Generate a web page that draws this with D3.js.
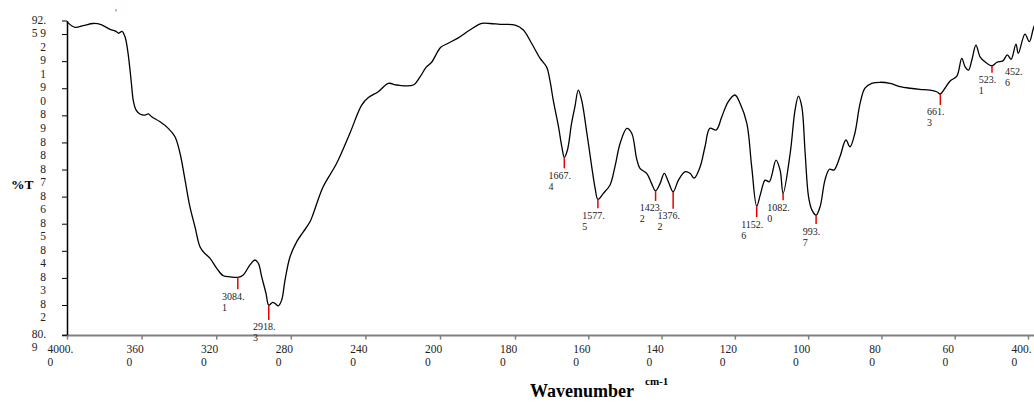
<!DOCTYPE html>
<html>
<head>
<meta charset="utf-8">
<script src="https://cdn.jsdelivr.net/npm/d3@7"></script>
<style>
  body { margin: 0; background: #fff; }
  svg text { font-family: "Liberation Serif", "Times New Roman", serif; fill: #222; }
</style>
</head>
<body>
<div id="chart"></div>
<script>
// IR spectrum
const wavenumber = [
  4000, 3957, 3913, 3859, 3814, 3769, 3737, 3723, 3705, 3689, 3675, 3662, 3653, 3645, 3630, 3609,
  3582, 3564, 3546, 3501, 3457, 3421, 3394, 3367, 3341, 3314, 3287, 3265, 3233, 3197, 3162, 3126,
  3084.1, 3055, 3019, 2992, 2974, 2956, 2933, 2918.3, 2897, 2885, 2867, 2849, 2831, 2804, 2768, 2733,
  2697, 2679, 2626, 2554, 2483, 2420, 2384, 2331, 2277, 2232, 2143, 2107, 2075, 2045, 1998, 1978,
  1951, 1920, 1888, 1866, 1839, 1799, 1777, 1755, 1732, 1715, 1706, 1697, 1683, 1674, 1667.4, 1659,
  1648, 1639, 1630, 1621, 1607, 1594, 1585, 1577.5, 1563, 1545, 1532, 1518, 1500, 1487, 1474, 1465,
  1447, 1434, 1423.2, 1411, 1400, 1389, 1376.2, 1362, 1344, 1331, 1320, 1304, 1291, 1278, 1261, 1246,
  1229, 1211, 1197, 1179, 1166, 1152.6, 1142, 1130, 1119, 1101, 1090, 1082.0, 1063, 1050, 1041, 1032,
  1023, 1014, 1005, 993.7, 983, 970, 958, 946, 930, 914, 903, 890, 876, 863, 845, 823,
  796, 769, 742, 716, 689, 671, 661.3, 649, 635, 617, 604, 595, 586, 577, 566, 555,
  542, 523.1, 510, 494, 482, 472, 459, 452.6, 435, 423, 410, 400
];
const transmittance = [
  92.45, 92.25, 92.31, 92.39, 92.34, 92.17, 92.10, 92.03, 92.10, 91.90, 91.41, 90.67, 90.06, 89.56, 89.20, 89.05,
  89.01, 89.05, 88.95, 88.76, 88.52, 88.21, 87.60, 86.61, 85.63, 84.89, 84.15, 83.93, 83.72, 83.35, 83.08, 83.04,
  83.02, 83.11, 83.48, 83.66, 83.54, 83.04, 82.43, 82.00, 82.10, 82.06, 81.97, 82.18, 82.92, 83.78, 84.34, 84.70,
  85.07, 85.38, 86.37, 87.23, 88.34, 89.38, 89.66, 89.87, 90.18, 90.12, 90.12, 90.42, 90.77, 90.96, 91.51, 91.66,
  91.86, 92.15, 92.39, 92.39, 92.36, 92.33, 92.15, 91.66, 91.10, 90.79, 90.30, 89.56, 88.58, 87.84, 87.45, 87.72,
  88.70, 89.32, 89.93, 89.56, 88.34, 87.10, 86.31, 85.90, 86.12, 86.43, 87.10, 87.97, 88.52, 88.34, 87.41, 87.04,
  86.86, 86.49, 86.21, 86.49, 86.86, 86.55, 86.18, 86.61, 86.92, 86.86, 86.68, 87.10, 87.84, 88.52, 88.46, 88.95,
  89.50, 89.75, 89.44, 88.70, 87.10, 85.65, 86.12, 86.61, 86.55, 87.35, 86.98, 86.12, 87.60, 89.20, 89.71, 89.32,
  87.60, 86.00, 85.51, 85.32, 85.63, 86.61, 87.01, 86.98, 87.47, 88.09, 87.84, 88.34, 89.44, 90.00, 90.18, 90.22,
  90.18, 90.06, 90.00, 89.96, 89.93, 89.87, 89.79, 90.00, 90.27, 90.45, 91.10, 90.79, 90.67, 91.04, 91.59, 91.16,
  90.98, 90.83, 90.96, 91.01, 91.23, 91.07, 91.63, 91.29, 92.00, 91.72, 92.30, 92.45
];

const peakWavenumbers = [3084.1, 2918.3, 1667.4, 1577.5, 1423.2, 1376.2, 1152.6, 1082.0, 993.7, 661.3, 523.1, 452.6];
const peakTransmittance = [83.02, 82.00, 87.45, 85.90, 86.21, 86.18, 85.65, 86.12, 85.32, 89.79, 90.83, 91.29];
const peakLabels = ['3084.1', '2918.3', '1667.4', '1577.5', '1423.2', '1376.2', '1152.6', '1082.0', '993.7', '661.3', '523.1', '452.6'];

const xTickValues = [4000, 3600, 3200, 2800, 2400, 2000, 1800, 1600, 1400, 1200, 1000, 800, 600, 400];
const xTickLabels = ['4000.0', '3600', '3200', '2800', '2400', '2000', '1800', '1600', '1400', '1200', '1000', '800', '600', '400.0'];
const yTickValues = [92.5, 92, 91, 90, 89, 88, 87, 86, 85, 84, 83, 82, 80.9];
const yTickLabels = ['92.5', '92', '91', '90', '89', '88', '87', '86', '85', '84', '83', '82', '80.9'];

// red marker lengths under each peak (layout only); the last one is not drawn in the original
const peakTickLen = [12, 15, 11, 9, 10, 17, 11, 7, 9, 11, 7, 11];
const peakTickShown = [true, true, true, true, true, true, true, true, true, true, true, false];

const width = 1034, height = 403;

const svg = d3.select('#chart').append('svg')
    .attr('width', width)
    .attr('height', height)
    .style('background', '#fff');

// scale change at 2000 cm-1
const x = d3.scaleLinear().domain([4000, 2000, 400]).range([67, 440, 1038]);
// the printed axis of the original runs a little tighter below 1800 than the trace
const xAxisScale = d3.scaleLinear().domain([4000, 2000, 1800, 400]).range([67, 440, 515, 1028]);
const y = d3.scaleLinear().domain([80.9, 92.5]).range([334.8, 20.5]);

// tick labels are wrapped: last character drops onto a second line, left-aligned with the first
function wrapLabel(textEl, str, size, lineH, anchor, ax, ay) {
    const t = d3.select(textEl);
    const parent = d3.select(textEl.parentNode);
    t.text(str.slice(0, -1))
        .attr('font-size', size)
        .attr('text-anchor', anchor)
        .attr('x', ax)
        .attr('y', ay)
        .attr('dy', null)
        .style('fill', '#222');
    const w = textEl.getComputedTextLength();
    const left = anchor === 'end' ? ax - w : ax - w / 2;
    parent.append('text')
        .attr('font-size', size)
        .attr('text-anchor', 'start')
        .attr('x', left)
        .attr('y', ay + lineH)
        .style('fill', '#222')
        .text(str.slice(-1));
}

// x axis
const gx = svg.append('g')
    .attr('transform', 'translate(0,335.6)')
    .call(d3.axisBottom(xAxisScale)
        .tickValues(xTickValues)
        .tickSize(4)
        .tickSizeOuter(0)
        .tickFormat((d, i) => xTickLabels[i]));
gx.select('.domain')
    .attr('d', 'M62,0H' + width)
    .attr('stroke', '#808080')
    .attr('stroke-width', 2);
gx.selectAll('.tick line').attr('stroke', '#808080').attr('stroke-width', 1.5);
gx.selectAll('.tick text').each(function (d, i) {
    wrapLabel(this, xTickLabels[i], 11.5, 13.5, 'middle', -7, 17);
});

// y axis
const gy = svg.append('g')
    .attr('transform', 'translate(67,0)')
    .call(d3.axisLeft(y)
        .tickValues(yTickValues)
        .tickSize(5)
        .tickSizeOuter(0)
        .tickFormat((d, i) => yTickLabels[i]));
gy.select('.domain').attr('stroke', '#000').attr('stroke-width', 1.5);
gy.selectAll('.tick line').attr('stroke', '#000');
gy.selectAll('.tick text').each(function (d, i) {
    wrapLabel(this, yTickLabels[i], 11.5, 13.4, 'end', -21, 2.6);
});

// spectrum trace
const line = d3.line()
    .x((d, i) => x(wavenumber[i]))
    .y(d => y(d))
    .curve(d3.curveCatmullRom.alpha(0.5));

svg.append('path')
    .datum(transmittance)
    .attr('fill', 'none')
    .attr('stroke', '#000')
    .attr('stroke-width', 1.3)
    .attr('d', line);

// peak markers and labels
const peaks = svg.append('g');
peakWavenumbers.forEach((w, i) => {
    const px = x(w), py = y(peakTransmittance[i]), len = peakTickLen[i];
    if (peakTickShown[i]) {
        peaks.append('line')
            .attr('x1', px).attr('x2', px)
            .attr('y1', py).attr('y2', py + len)
            .attr('stroke', '#e60000')
            .attr('stroke-width', 1.5);
    }
    const g = peaks.append('g').attr('transform', `translate(${px},${py + len})`);
    const t = g.append('text').node();
    wrapLabel(t, peakLabels[i], 10, 11, 'middle', -4.5, 10.5);
});

// stray marker above the plot near 3737
svg.append('line')
    .attr('x1', x(3737)).attr('x2', x(3737))
    .attr('y1', 9).attr('y2', 11.5)
    .attr('stroke', '#e60000')
    .attr('stroke-opacity', 0.6)
    .attr('stroke-width', 1.2);

// axis titles
svg.append('text')
    .attr('x', 11)
    .attr('y', 189)
    .attr('font-size', 13.5)
    .attr('font-weight', 'bold')
    .style('fill', '#000')
    .text('%T');

const xt = svg.append('text')
    .attr('x', 530)
    .attr('y', 397)
    .attr('font-weight', 'bold')
    .style('fill', '#000');
xt.append('tspan').attr('font-size', 18).text('Wavenumber');
xt.append('tspan').attr('font-size', 11).attr('dx', 11).attr('dy', -12).text('cm-1');
</script>
</body>
</html>
